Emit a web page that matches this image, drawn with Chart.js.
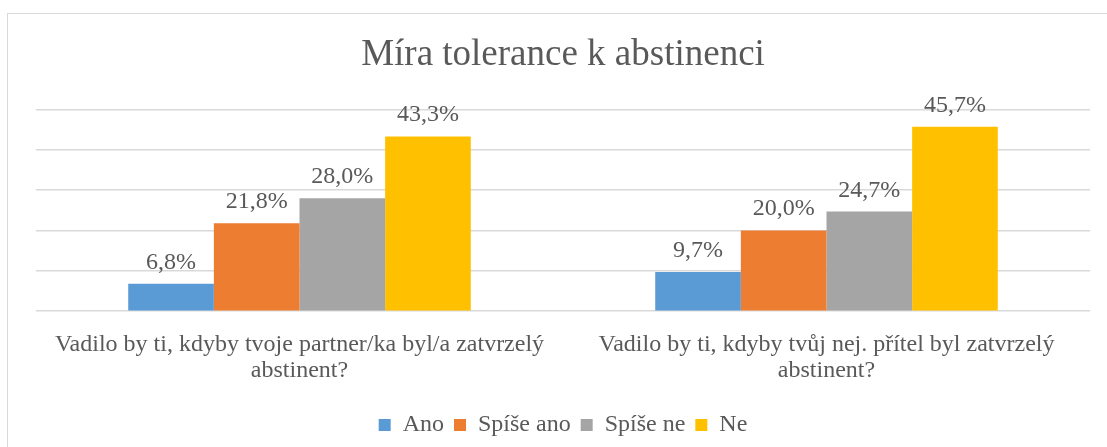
<!DOCTYPE html>
<html>
<head>
<meta charset="utf-8">
<script src="https://cdn.jsdelivr.net/npm/chart.js@4.4.0/dist/chart.umd.min.js"></script>
<style>
  html, body { margin: 0; padding: 0; background: #fff; }
  #wrap { position: relative; width: 1107px; height: 447px; overflow: hidden; }
  #frame { position: absolute; left: 7px; top: 13px; width: 1120px; height: 460px; border: 1px solid #d9d9d9; box-sizing: border-box; }
  #chart { position: absolute; left: 0; top: 0; }
</style>
</head>
<body>
<div id="wrap">
  <div id="frame"></div>
  <canvas id="chart" width="1107" height="447"></canvas>
</div>
<script>
// ------------------------------------------------------------
// Míra tolerance k abstinenci — clustered bars, 4 answers
// ------------------------------------------------------------
const categories = [
  ['Vadilo by ti, kdyby tvoje partner/ka byl/a zatvrzelý', 'abstinent?'],
  ['Vadilo by ti, kdyby tvůj nej. přítel byl zatvrzelý', 'abstinent?'],
];
const seriesNames = ['Ano', 'Spíše ano', 'Spíše ne', 'Ne'];
const ano      = [6.8, 9.7];
const spiseAno = [21.8, 20.0];
const spiseNe  = [28.0, 24.7];
const ne       = [43.3, 45.7];

const COLORS = ['#5B9BD5', '#ED7D31', '#A5A5A5', '#FFC000'];
const TEXT = '#595959';
const FONT = '"Liberation Serif", "Times New Roman", serif';

// value labels above each bar, Czech decimal comma
const barLabels = {
  id: 'barLabels',
  afterDatasetsDraw(chart) {
    const { ctx } = chart;
    ctx.save();
    ctx.fillStyle = TEXT;
    ctx.font = `24px ${FONT}`;
    ctx.textAlign = 'center';
    ctx.textBaseline = 'alphabetic';
    chart.data.datasets.forEach((ds, i) => {
      chart.getDatasetMeta(i).data.forEach((bar, j) => {
        const txt = ds.data[j].toFixed(1).replace('.', ',') + '%';
        ctx.fillText(txt, bar.x, bar.y - 15);
      });
    });
    ctx.restore();
  }
};

const datasets = [ano, spiseAno, spiseNe, ne].map((vals, i) => ({
  label: seriesNames[i],
  data: vals,
  backgroundColor: COLORS[i],
  borderWidth: 0,
  categoryPercentage: 0.65,
  barPercentage: 1.0,
}));

new Chart(document.getElementById('chart'), {
  type: 'bar',
  data: { labels: categories, datasets },
  options: {
    responsive: false,
    animation: false,
    devicePixelRatio: 1,
    layout: { padding: { left: 36, right: 17, top: 0, bottom: 0 } },
    plugins: {
      title: {
        display: true,
        text: 'Míra tolerance k abstinenci',
        color: TEXT,
        font: { family: FONT, size: 37, weight: 'normal', lineHeight: 1.2 },
        padding: { top: 33, bottom: 32 },
      },
      legend: {
        position: 'bottom',
        labels: {
          color: TEXT,
          font: { family: FONT, size: 24 },
          boxWidth: 12,
          boxHeight: 12,
          padding: 10,
        },
      },
      tooltip: { enabled: false },
    },
    scales: {
      x: {
        grid: { display: false },
        border: { display: false },
        ticks: {
          color: TEXT,
          font: { family: FONT, size: 24, lineHeight: 1.1 },
          padding: 12,
          maxRotation: 0,
          autoSkip: false,
        },
        // a bit of room between the category labels and the legend
        afterFit(axis) { axis.height += 7; },
      },
      y: {
        min: 0,
        max: 50,
        ticks: { stepSize: 10, display: false },
        grid: { color: '#d9d9d9', lineWidth: 1.5, drawTicks: false },
        border: { display: false },
      },
    },
  },
  plugins: [barLabels],
});
</script>
</body>
</html>
